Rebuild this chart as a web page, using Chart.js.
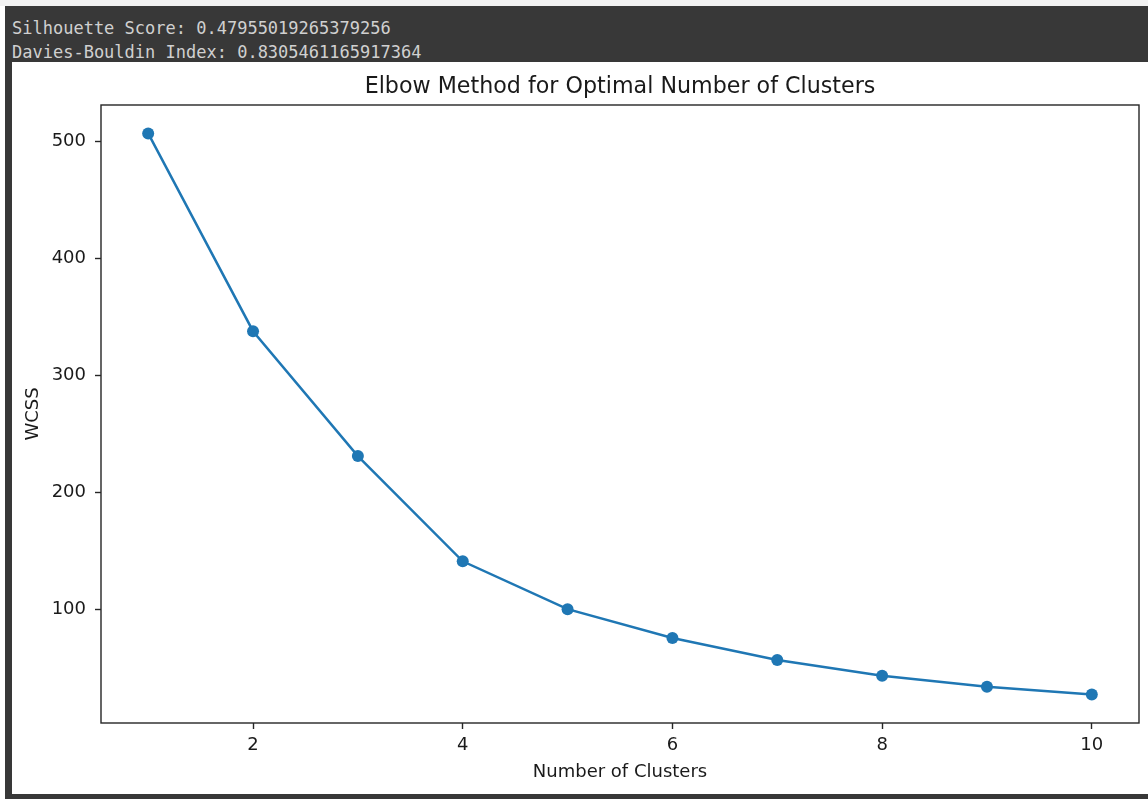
<!DOCTYPE html>
<html>
<head>
<meta charset="utf-8">
<script src="https://cdn.jsdelivr.net/npm/chart.js@4/dist/chart.umd.min.js"></script>
<style>
  html, body { margin: 0; padding: 0; background: #ffffff; width: 1148px; height: 799px; overflow: hidden; }
  #topstrip { position: absolute; left: 0; top: 0; width: 1148px; height: 6px; background: #f2f2f2; }
  #band { position: absolute; left: 5px; top: 6px; width: 1143px; height: 56px; background: #383838; }
  #out { position: absolute; left: 12px; top: 16px; margin: 0; font-family: "DejaVu Sans Mono", monospace; font-size: 17px; line-height: 24px; color: #d0d0d0; white-space: pre; }
  #leftbar { position: absolute; left: 5px; top: 6px; width: 7px; height: 793px; background: #383838; }
  #bottombar { position: absolute; left: 5px; top: 794px; width: 1143px; height: 5px; background: #383838; }
  #wrap { position: absolute; left: 12px; top: 62px; width: 1136px; height: 732px; background: #ffffff; }
</style>
</head>
<body>
<div id="topstrip"></div>
<div id="band"></div>
<pre id="out">Silhouette Score: 0.47955019265379256
Davies-Bouldin Index: 0.8305461165917364</pre>
<div id="leftbar"></div>
<div id="bottombar"></div>
<div id="wrap"><canvas id="c" width="1136" height="732"></canvas></div>
<script>
const clusters = [1, 2, 3, 4, 5, 6, 7, 8, 9, 10];
const wcss = [506.5, 337.5, 230.8, 140.9, 100.0, 75.3, 56.5, 43.1, 33.6, 27.0];
const xTicks = [2, 4, 6, 8, 10];
const yTicks = [100, 200, 300, 400, 500];
const chartTitle = 'Elbow Method for Optimal Number of Clusters';
const xLabel = 'Number of Clusters';
const yLabel = 'WCSS';

const ink = '#1a1a1a';
const frame = {
  id: 'frame',
  afterDatasetsDraw(chart) {
    const a = chart.chartArea;
    const ctx = chart.ctx;
    ctx.save();
    ctx.strokeStyle = '#262626';
    ctx.lineWidth = 1.4;
    ctx.strokeRect(a.left, a.top, a.right - a.left, a.bottom - a.top);
    ctx.restore();
  }
};

new Chart(document.getElementById('c'), {
  type: 'line',
  data: {
    datasets: [{
      data: clusters.map((c, i) => ({ x: c, y: wcss[i] })),
      borderColor: '#1f77b4',
      backgroundColor: '#1f77b4',
      borderWidth: 2.5,
      pointRadius: 6,
      pointBorderWidth: 0,
      pointHoverRadius: 6,
      tension: 0,
      fill: false,
      clip: false
    }]
  },
  options: {
    responsive: false,
    animation: false,
    events: [],
    layout: { padding: { left: 0, right: 9, top: 0, bottom: 0 } },
    plugins: {
      legend: { display: false },
      tooltip: { enabled: false },
      title: {
        display: true,
        fullSize: false,
        text: chartTitle,
        color: ink,
        font: { family: 'DejaVu Sans', size: 22.2, weight: 'normal' },
        padding: { top: 11.5, bottom: 4.86 }
      }
    },
    scales: {
      x: {
        type: 'linear',
        min: 0.55,
        max: 10.45,
        afterBuildTicks: s => { s.ticks = xTicks.map(v => ({ value: v })); },
        afterFit: s => { s.height = 71; },
        ticks: { color: ink, font: { family: 'DejaVu Sans', size: 18 }, padding: 6, maxRotation: 0, autoSkip: false },
        grid: { display: true, drawOnChartArea: false, drawTicks: true, tickLength: 6, tickColor: '#262626', tickWidth: 1.4 },
        border: { display: false },
        title: { display: true, text: xLabel, color: ink, font: { family: 'DejaVu Sans', size: 18 }, padding: { top: 0, bottom: 11 } }
      },
      y: {
        type: 'linear',
        min: 2.7,
        max: 530.8,
        afterBuildTicks: s => { s.ticks = yTicks.map(v => ({ value: v })); },
        afterFit: s => { s.width = 89; },
        ticks: { color: ink, font: { family: 'DejaVu Sans', size: 18 }, padding: 9, autoSkip: false },
        grid: { display: true, drawOnChartArea: false, drawTicks: true, tickLength: 6, tickColor: '#262626', tickWidth: 1.4 },
        border: { display: false },
        title: { display: true, text: yLabel, color: ink, font: { family: 'DejaVu Sans', size: 18 }, padding: { top: 11, bottom: 0 } }
      }
    }
  },
  plugins: [frame]
});
</script>
</body>
</html>
